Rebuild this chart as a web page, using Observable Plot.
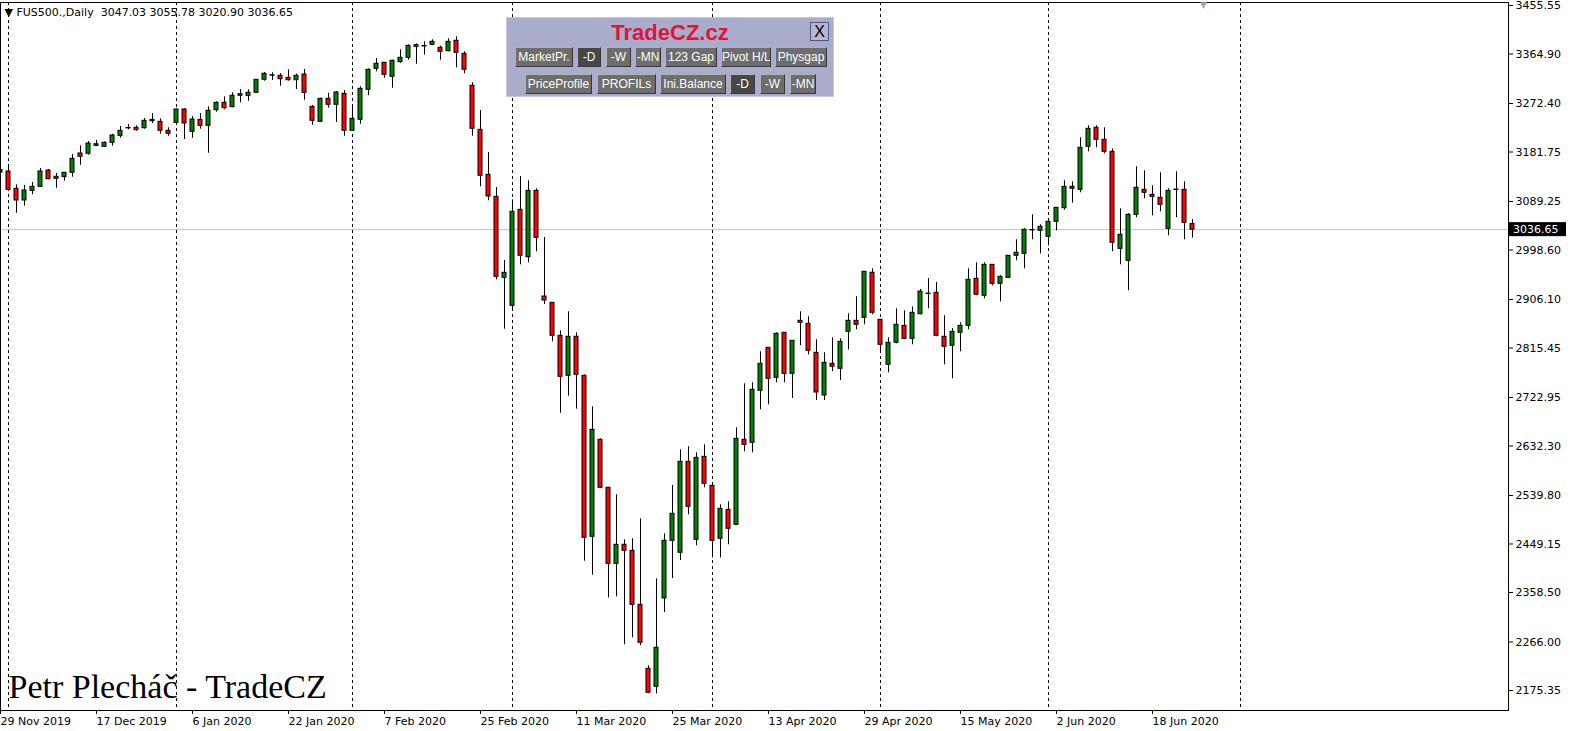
<!DOCTYPE html>
<html><head><meta charset="utf-8">
<script src="https://cdn.jsdelivr.net/npm/d3@7"></script>
<script src="https://cdn.jsdelivr.net/npm/@observablehq/plot@0.6"></script>
<style>
html,body{margin:0;padding:0;background:#fff;}
#wrap{position:relative;width:1570px;height:731px;overflow:hidden;}
#panel{position:absolute;left:506px;top:17px;width:328px;height:80px;background:#a9acca;border:1px solid #c6c8de;box-sizing:border-box;font-family:"Liberation Sans",Arial,sans-serif;}
.ttl{position:absolute;left:0;width:100%;top:2px;text-align:center;color:#e3123c;font-weight:bold;font-size:22px;line-height:26px;}
.xb{position:absolute;left:303px;top:4px;width:19px;height:19px;box-sizing:border-box;border:1px solid #55577a;background:#b4b6d2;color:#000;font-size:16px;line-height:17px;text-align:center;}
.btn{position:absolute;height:20px;background:#6d6d6d;color:#fff;font-size:12px;line-height:18px;text-align:center;box-sizing:border-box;border-top:1px solid #b4b4b4;border-left:1px solid #b4b4b4;border-right:1px solid #383838;border-bottom:1px solid #383838;overflow:hidden;white-space:nowrap;letter-spacing:0;}
.sel{background:#474747;}
#shift{position:absolute;left:1200px;top:1px;color:#a8a8a8;font-size:9px;line-height:9px;font-family:"DejaVu Sans";}
</style></head>
<body>
<div id="wrap"></div>
<script>
const opens=[3148.1,3145.3,3113.0,3091.1,3109.2,3116.7,3147.2,3135.4,3134.7,3142.9,
3179.0,3178.4,3193.3,3191.5,3198.9,3212.0,3225.9,3227.0,3226.2,3239.3,
3238.2,3221.4,3236.3,3261.2,3219.5,3241.9,3230.7,3259.9,3273.7,3265.5,
3286.8,3286.8,3292.4,3316.7,3324.4,3324.2,3320.4,3315.9,3326.6,3266.2,
3238.2,3281.2,3270.0,3290.5,3221.4,3241.9,3298.0,3337.2,3348.5,3322.3,
3349.6,3357.8,3378.4,3379.1,3382.1,3376.5,3370.1,3389.6,3365.3,3305.5,
3223.2,3139.1,3098.0,2946.6,2894.3,3073.7,2985.1,3109.2,2911.7,2899.9,
2838.3,2763.5,2836.4,2763.5,2462.6,2643.9,2554.2,2412.1,2447.7,2436.4,
2335.5,2215.9,2182.3,2347.3,2455.1,2432.7,2602.8,2457.0,2612.1,2557.9,
2458.9,2513.1,2485.0,2643.9,2638.3,2735.5,2815.8,2759.8,2843.9,2767.2,
2866.3,2860.7,2806.5,2726.7,2785.9,2776.6,2845.7,2866.3,2871.9,2956.0,
2868.2,2784.1,2825.2,2856.9,2832.6,2878.6,2916.4,2918.6,2836.4,2819.6,
2843.9,2856.9,2944.8,2913.0,2970.9,2935.4,2946.6,2987.8,2991.5,3035.2,
3034.5,3023.3,3051.3,3076.7,3116.7,3111.1,3191.5,3227.0,3204.6,3182.1,
3000.8,2978.4,3064.4,3111.1,3101.8,3096.2,3038.2,3110.7,3111.1,3047.03];
const highs=[3150.9,3158.4,3120.4,3119.1,3124.8,3150.9,3149.1,3141.6,3143.5,3177.1,
3193.3,3201.4,3203.2,3200.8,3215.0,3229.4,3233.2,3230.7,3244.4,3253.7,
3243.8,3227.0,3262.1,3262.5,3248.1,3253.7,3266.2,3275.6,3284.9,3292.4,
3298.6,3298.0,3317.2,3330.3,3329.8,3327.9,3335.4,3327.2,3335.9,3268.7,
3282.3,3291.6,3294.8,3296.7,3270.5,3303.6,3337.2,3356.5,3349.0,3353.3,
3372.8,3382.1,3384.0,3387.7,3391.4,3379.5,3393.3,3397.1,3369.0,3311.1,
3259.3,3180.8,3115.4,2979.0,3092.4,3136.0,3127.9,3113.0,3022.0,2900.5,
2847.6,2883.1,2843.9,2765.4,2705.6,2645.7,2554.8,2541.1,2457.0,2458.9,
2496.2,2221.5,2384.1,2468.2,2558.5,2625.2,2630.8,2619.6,2634.5,2563.5,
2522.4,2528.0,2666.3,2748.5,2750.4,2808.4,2816.4,2843.9,2844.4,2829.5,
2883.1,2873.8,2830.8,2806.5,2834.5,2832.6,2879.4,2911.1,2958.4,2963.5,
2868.7,2834.5,2888.7,2885.0,2892.4,2924.8,2945.3,2937.9,2875.6,2851.9,
2862.5,2963.5,2974.7,2974.7,2971.4,2950.4,2988.3,3017.7,3038.2,3064.4,
3045.7,3051.9,3078.0,3127.9,3126.1,3208.3,3230.7,3230.7,3227.0,3187.7,
3075.6,3066.3,3154.1,3146.6,3118.6,3142.9,3113.0,3144.8,3126.1,3055.78];
const lows=[3139.7,3109.8,3067.4,3080.5,3101.8,3116.0,3129.8,3114.1,3127.2,3134.7,
3157.1,3175.8,3191.5,3190.2,3192.6,3207.5,3223.2,3220.6,3224.4,3235.0,
3215.0,3211.3,3235.4,3205.1,3207.5,3224.4,3179.5,3256.1,3260.6,3264.4,
3273.7,3276.7,3291.8,3314.1,3315.4,3304.7,3314.1,3298.6,3278.6,3231.8,
3237.3,3263.6,3236.9,3211.3,3220.1,3233.7,3286.8,3331.6,3319.7,3301.0,
3347.7,3353.3,3345.8,3362.7,3381.5,3353.3,3369.0,3339.1,3327.9,3211.3,
3116.7,3090.6,2942.9,2850.6,2885.5,2970.9,2974.7,2995.2,2896.7,2827.0,
2693.6,2725.4,2701.1,2417.0,2390.8,2553.6,2348.6,2350.5,2260.8,2273.8,
2258.9,2169.2,2169.2,2321.1,2384.7,2418.3,2503.7,2445.8,2554.2,2423.4,
2423.4,2447.7,2484.5,2621.5,2619.6,2700.0,2709.3,2750.4,2750.4,2721.1,
2819.6,2802.7,2717.3,2717.3,2771.0,2754.7,2812.1,2849.5,2858.8,2877.5,
2805.7,2769.1,2823.3,2830.8,2821.4,2877.5,2888.7,2836.4,2784.1,2757.9,
2808.4,2849.5,2913.0,2907.4,2931.7,2901.8,2946.1,2978.4,2963.5,3017.7,
2991.5,3006.5,3034.5,3073.0,3086.1,3105.5,3182.1,3189.6,3178.4,2995.2,
2970.9,2922.4,3058.8,3094.3,3062.5,3070.0,3025.1,3058.8,3017.7,3020.90];
const closes=[3143.4,3111.1,3091.1,3109.8,3116.7,3145.3,3130.9,3131.7,3142.9,3169.0,
3172.8,3197.6,3196.3,3198.9,3212.6,3221.4,3226.6,3222.5,3240.1,3241.9,
3221.4,3215.8,3261.2,3235.0,3242.5,3230.7,3258.8,3273.7,3263.6,3286.8,
3289.8,3292.4,3316.7,3327.9,3325.1,3317.8,3315.9,3324.2,3292.4,3240.1,
3281.2,3270.0,3293.0,3221.4,3243.8,3299.9,3335.4,3346.6,3326.0,3352.2,
3357.8,3380.2,3381.4,3379.9,3387.7,3369.0,3387.7,3367.2,3335.4,3225.1,
3137.3,3098.6,2948.5,2956.0,3070.0,2987.8,3109.2,3021.4,2904.2,2838.3,
2761.6,2836.4,2765.4,2460.7,2662.6,2554.2,2412.1,2447.7,2436.4,2335.5,
2264.5,2171.1,2255.2,2455.1,2505.6,2602.8,2518.7,2610.2,2561.7,2455.1,
2514.9,2477.6,2645.7,2634.5,2737.3,2785.9,2757.9,2842.0,2767.2,2828.9,
2862.5,2810.2,2732.3,2787.8,2780.3,2827.0,2866.3,2858.8,2957.9,2881.2,
2821.4,2825.2,2858.8,2832.6,2881.2,2921.0,2917.1,2838.3,2817.7,2845.7,
2856.9,2942.9,2914.9,2970.9,2935.4,2948.5,2987.8,2993.4,3036.4,3036.0,
3042.0,3051.3,3077.5,3116.7,3113.0,3189.6,3225.1,3204.6,3182.1,3012.1,
3027.0,3064.4,3114.9,3105.5,3098.0,3083.1,3109.2,3111.5,3049.4,3036.65];
const sepIdx=[1,22,44,64,89,110,131,155];
const tickIdx=[0,12,24,36,48,60,72,84,96,108,120,132,144];
const tickLabels=["29 Nov 2019","17 Dec 2019","6 Jan 2020","22 Jan 2020","7 Feb 2020","25 Feb 2020","11 Mar 2020","25 Mar 2020","13 Apr 2020","29 Apr 2020","15 May 2020","2 Jun 2020","18 Jun 2020"];
const yTicks=[3455.55,3364.90,3272.40,3181.75,3089.25,2998.60,2906.10,2815.45,2722.95,2632.30,2539.80,2449.15,2358.50,2266.00,2175.35];
const symbolName="FUS500.,Daily";
const watermark="Petr Plecháč - TradeCZ";
const row1=[["MarketPr.",8,58,false],["-D",70,24,true],["-W",99,25,false],["-MN",128,26,false],["123 Gap",158,52,false],["Pivot H/L",214,50,false],["Physgap",268,52,false]];
const row2=[["PriceProfile",18,67,false],["PROFILs",90,59,false],["Ini.Balance",153,66,false],["-D",223,25,true],["-W",253,25,false],["-MN",283,26,false]];

const data=opens.map((o,i)=>({i,open:o,high:highs[i],low:lows[i],close:closes[i]}));
const last=data[data.length-1];
const header="▼ "+symbolName+"\u00a0\u00a0"+[last.open,last.high,last.low,last.close].map(v=>v.toFixed(2)).join(" ");

const chart=Plot.plot({
  width:1570,height:731,marginLeft:0,marginRight:62,marginTop:2,marginBottom:21,
  style:{fontFamily:"DejaVu Sans",fontSize:"11px",background:"white",color:"black"},
  x:{type:"linear",domain:[0,188.5],range:[0,1508],label:null},
  y:{type:"linear",domain:[2175.35,3455.55],range:[690,5],label:null},
  marks:[
    Plot.ruleY([last.close],{stroke:"#c0c0c0"}),
    Plot.ruleX(sepIdx,{stroke:"black",strokeDasharray:"3,3"}),
    Plot.ruleX(data,{x:"i",y1:"low",y2:"high",stroke:"black",strokeWidth:1}),
    Plot.rect(data,{x1:d=>d.i-0.25,x2:d=>d.i+0.25,y1:"open",y2:"close",
      fill:d=>d.close>=d.open?"#008000":"#ff0000",stroke:"black",strokeWidth:1}),
    Plot.frame({stroke:"black"}),
    Plot.axisY({anchor:"right",ticks:yTicks,tickFormat:d=>d.toFixed(2),tickSize:4,tickPadding:3,fontSize:11}),
    Plot.axisX({anchor:"bottom",ticks:tickIdx,tickFormat:d=>tickLabels[tickIdx.indexOf(d)],tickSize:4,tickPadding:3,textAnchor:"start",fontSize:11}),
    Plot.text([header],{frameAnchor:"top-left",dx:4,dy:6,fontSize:11,textAnchor:"start"}),
    Plot.text([watermark],{frameAnchor:"bottom-left",lineAnchor:"bottom",dx:8,dy:-13,fontSize:34,fontFamily:"Liberation Serif",textAnchor:"start"})
  ]
});

const yy=chart.scale("y").apply(last.close);
const g=d3.select(chart).append("g");
g.append("rect").attr("x",1509).attr("y",yy-7).attr("width",57).attr("height",14).attr("fill","black");
g.append("text").attr("x",1513).attr("y",yy+4).attr("text-anchor","start").attr("fill","white").attr("font-size",11).attr("font-family","DejaVu Sans").text(last.close.toFixed(2));

const wrap=document.getElementById("wrap");
wrap.appendChild(chart);
const shift=document.createElement("div");shift.id="shift";shift.textContent="▼";wrap.appendChild(shift);
const panel=document.createElement("div");panel.id="panel";
panel.innerHTML='<div class="ttl">TradeCZ.cz</div><div class="xb">X</div>';
function addRow(row,top){row.forEach(([t,l,w,s])=>{const b=document.createElement("div");b.className="btn"+(s?" sel":"");b.style.left=l+"px";b.style.top=top+"px";b.style.width=w+"px";b.textContent=t;panel.appendChild(b);});}
addRow(row1,29);addRow(row2,56);
wrap.appendChild(panel);
</script>
</body></html>
